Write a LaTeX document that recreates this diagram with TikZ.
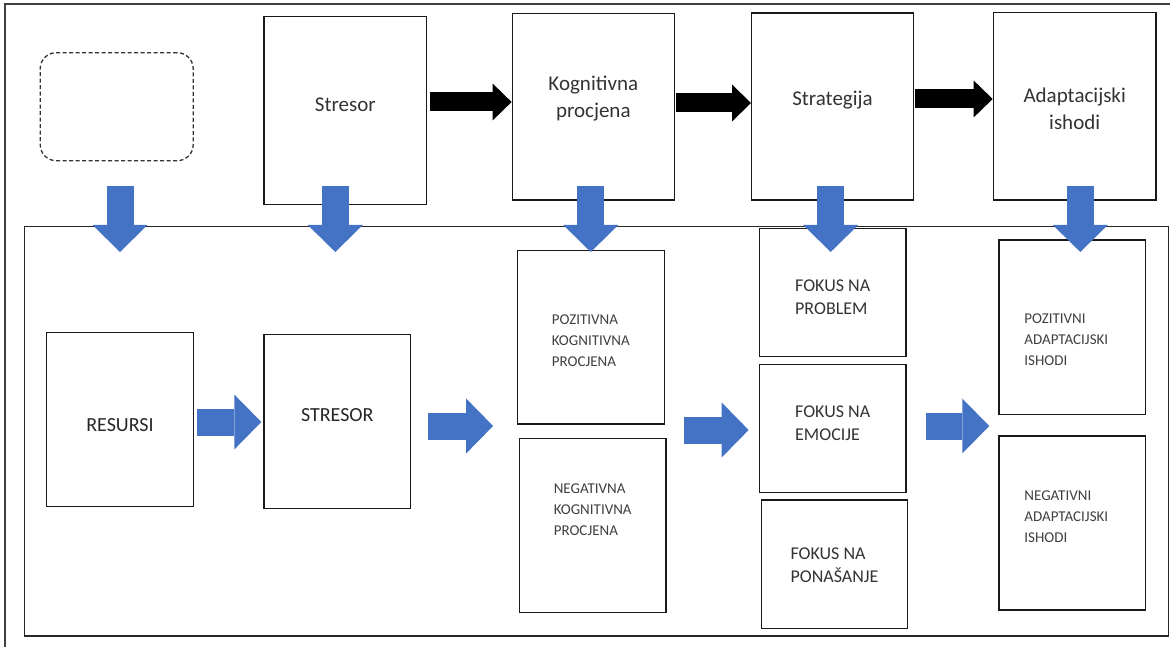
\documentclass[tikz,border=0pt]{standalone}
\usepackage{fontspec}
\setmainfont{Carlito}
\usetikzlibrary{arrows.meta}

\definecolor{arrblue}{HTML}{4472C4}

\tikzset{
  box/.style 2 args={draw=black!90, line width=1.4pt, minimum width=#1, minimum height=#2, inner sep=0pt},
  emptybox/.style={draw=black!80, line width=1.3pt, dash pattern=on 4pt off 2.5pt, rounded corners=16pt,
    minimum width=153pt, minimum height=108pt},
  toptxt/.style={font=\fontsize{21}{27}\selectfont, text=black!80, align=center, inner sep=0pt},
  bigcaps/.style={font=\fontsize{20}{24}\selectfont, text=black!85, inner sep=0pt},
  midcaps/.style={font=\fontsize{18}{23}\selectfont, text=black!80, align=left, inner sep=0pt},
  smallcaps/.style={font=\fontsize{15}{21}\selectfont, text=black!75, align=left, inner sep=0pt},
  bluearr/.style={arrblue, line width=27pt, -{Triangle[length=27pt, width=55pt, line width=0pt]}},
  blackarr/.style={black, line width=19pt, -{Triangle[length=19pt, width=37pt, line width=0pt]}}
}

\begin{document}
\begin{tikzpicture}[x=1pt, y=-1pt]
\useasboundingbox (0,0) rectangle (1170,647);
\clip (0,0) rectangle (1170,647);

% frames
\draw[black!75, line width=2pt] (4.5,4.5) rectangle (1200,700);
\draw[black!85, line width=1.6pt] (24.5,226.5) rectangle (1168.3,636);

% upper row
\node[emptybox] (blank) at (116.7,106.7) {};
\node[box={162.5pt}{187.6pt}] (stres) at (345.3,110.5) {};
\node[box={162pt}{186.7pt}] (kog) at (593.3,106.7) {};
\node[box={161.6pt}{187pt}] (strat) at (832.5,106.5) {};
\node[box={162.7pt}{187.3pt}] (adapt) at (1074.7,106.4) {};

\node[toptxt] (stresT) at ([yshift=5.5pt]stres.center) {Stresor};
\node[toptxt] (kogT) at ([yshift=8pt]kog.center) {Kognitivna\\procjena};
\node[toptxt] (stratT) at ([yshift=6.5pt]strat.center) {Strategija};
\node[toptxt] (adaptT) at ([yshift=-2pt]adapt.center) {Adaptacijski\\ishodi};

% lower row
\node[box={146.6pt}{174.4pt}] (rsr) at (120,419.5) {};
\node[box={146.6pt}{174pt}] (str) at (337.3,421.3) {};
\node[box={147pt}{173.3pt}] (pkp) at (590.8,337.3) {};
\node[box={146.7pt}{174pt}] (nkp) at (592.7,525.3) {};
\node[box={146.7pt}{128.4pt}] (fpr) at (832.7,292.5) {};
\node[box={146.7pt}{128pt}] (fem) at (832.7,428.3) {};
\node[box={146.4pt}{128.3pt}] (fpo) at (834.5,564.2) {};
\node[box={146.7pt}{174.3pt}] (pai) at (1072.3,327.2) {};
\node[box={146.7pt}{174pt}] (nai) at (1072.3,523) {};

\node[bigcaps] (rsrT) at ([yshift=-5.5pt]rsr.center) {RESURSI};
\node[bigcaps] (strT) at ([yshift=6pt]str.center) {STRESOR};
\node[smallcaps] (pkpT) at ([yshift=-3.7pt]pkp.center) {POZITIVNA\\KOGNITIVNA\\PROCJENA};
\node[smallcaps] (nkpT) at ([yshift=16pt]nkp.center) {NEGATIVNA\\KOGNITIVNA\\PROCJENA};
\node[midcaps] (fprT) at ([yshift=-5pt]fpr.center) {FOKUS NA\\PROBLEM};
\node[midcaps] (femT) at ([yshift=5pt]fem.center) {FOKUS NA\\EMOCIJE};
\node[midcaps] (fpoT) at ([yshift=-1.5pt]fpo.center) {FOKUS NA\\PONAŠANJE};
\node[smallcaps] (paiT) at ([xshift=-6pt, yshift=-12pt]pai.center) {POZITIVNI\\ADAPTACIJSKI\\ISHODI};
\node[smallcaps] (naiT) at ([xshift=-6pt, yshift=6pt]nai.center) {NEGATIVNI\\ADAPTACIJSKI\\ISHODI};

% black arrows
\draw[blackarr, shorten <=3pt] (stres.east |- 0,102) -- (kog.west |- 0,102);
\draw[blackarr, shorten <=1pt] (kog.east |- 0,103) -- (strat.west |- 0,103);
\draw[blackarr, shorten <=1pt] (strat.east |- 0,99) -- (adapt.west |- 0,99);

% blue arrows down
\foreach \b/\dx in {rsr/0, str/-2, pkp/0, fpr/-2, pai/8}
  \draw[bluearr] ([xshift=\dx pt]\b.north |- 0,186) -- ([xshift=\dx pt]\b.north |- 0,252);

% blue arrows right
\draw[bluearr, shorten <=3pt, shorten >=2pt] (rsr.east |- 0,422) -- (str.west |- 0,422);
\draw[bluearr, shorten <=17pt, shorten >=23.5pt] (str.east |- 0,426) -- (pkp.west |- 0,426);
\draw[bluearr, shorten <=17pt, shorten >=10pt] (nkp.east |- 0,430) -- (fem.west |- 0,430);
\draw[bluearr, shorten <=19pt, shorten >=9pt] (fem.east |- 0,426) -- (pai.west |- 0,426);

\end{tikzpicture}
\end{document}
